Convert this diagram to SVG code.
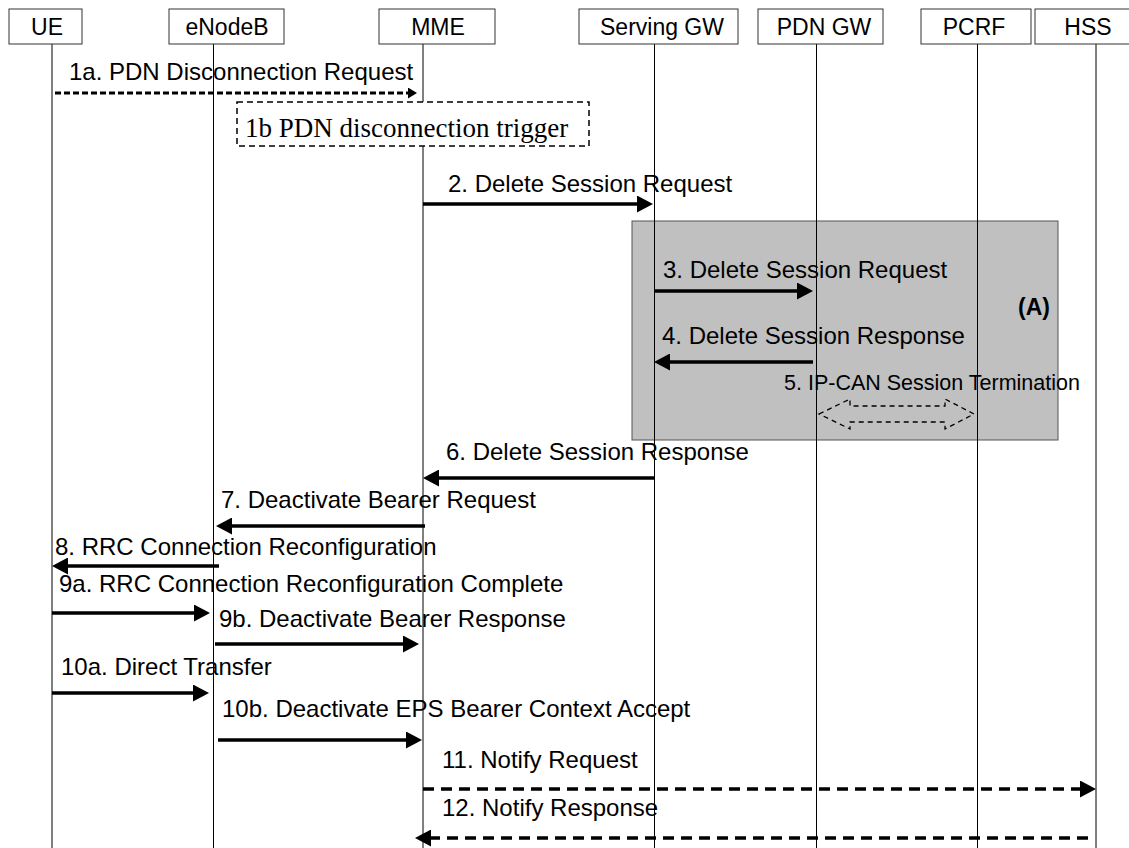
<svg xmlns="http://www.w3.org/2000/svg" width="1129" height="848" viewBox="0 0 1129 848">
<style>
.hdr rect{fill:#fff;stroke:#333;stroke-width:1}
text{font-family:"Liberation Sans",Arial,sans-serif;font-size:24px;fill:#000}
.hdr text{text-anchor:middle;font-size:23px}
.life{stroke:#000;stroke-width:1}
.msg{stroke:#000;stroke-width:3.5;fill:none}
.dash{stroke-dasharray:11 7}
.dot{stroke:#000;stroke-width:3;stroke-dasharray:6 3;fill:none}
</style>
<defs>
<marker id="ah" markerUnits="userSpaceOnUse" markerWidth="16" markerHeight="17" refX="0" refY="8.5" orient="auto">
<path d="M0,0 L16,8.5 L0,17 z" fill="#000"/>
</marker>
<marker id="ahs" markerUnits="userSpaceOnUse" markerWidth="9" markerHeight="11" refX="0" refY="5.5" orient="auto">
<path d="M0,0 L9,5.5 L0,11 z" fill="#000"/>
</marker>
</defs>
<g id="regionA">
<rect x="632" y="221" width="426" height="219" fill="#c0c0c0" stroke="#555" stroke-width="1"/>
<text x="1018" y="315" font-weight="bold" style="font-size:23px">(A)</text>
</g>
<g id="lifelines">
<line class="life" x1="52" y1="44" x2="52" y2="848"/>
<line class="life" x1="213.5" y1="44" x2="213.5" y2="848"/>
<line class="life" x1="423" y1="44" x2="423" y2="848"/>
<line class="life" x1="654.5" y1="44" x2="654.5" y2="848"/>
<line class="life" x1="816.5" y1="44" x2="816.5" y2="848"/>
<line class="life" x1="977.5" y1="44" x2="977.5" y2="848"/>
<line class="life" x1="1096" y1="44" x2="1096" y2="848"/>
</g>
<g id="UE" class="hdr"><rect x="9" y="9" width="73" height="35"/><text x="47" y="35">UE</text></g>
<g id="eNodeB" class="hdr"><rect x="169" y="9" width="115" height="35"/><text x="227" y="35">eNodeB</text></g>
<g id="MME" class="hdr"><rect x="379" y="9" width="116" height="35"/><text x="438" y="35">MME</text></g>
<g id="ServingGW" class="hdr"><rect x="579" y="9" width="159" height="35"/><text x="662" y="35">Serving GW</text></g>
<g id="PDNGW" class="hdr"><rect x="758" y="9" width="125" height="35"/><text x="824" y="35">PDN GW</text></g>
<g id="PCRF" class="hdr"><rect x="921" y="9" width="110" height="35"/><text x="974" y="35">PCRF</text></g>
<g id="HSS" class="hdr"><rect x="1035" y="9" width="100" height="35"/><text x="1088" y="35">HSS</text></g>
<g id="trigger1b">
<rect x="237" y="102" width="352" height="44" fill="#fff" stroke="#000" stroke-width="1.5" stroke-dasharray="6 4"/>
<text x="245" y="137" style="font-family:'Liberation Serif','Times New Roman',serif;font-size:27px">1b PDN disconnection trigger</text>
</g>
<g id="connectors">
<line class="dot" x1="55" y1="93" x2="408" y2="93" marker-end="url(#ahs)"/>
<line class="msg" x1="423" y1="204" x2="637" y2="204" marker-end="url(#ah)"/>
<line class="msg" x1="654" y1="291" x2="797" y2="291" marker-end="url(#ah)"/>
<line class="msg" x1="813" y1="362" x2="670" y2="362" marker-end="url(#ah)"/>
<path d="M819,414 L850,399 L850,406 L945,406 L945,399 L974,414 L945,429 L945,422 L850,422 L850,429 Z" fill="none" stroke="#000" stroke-width="1.3" stroke-dasharray="5 4"/>
<line class="msg" x1="654" y1="478" x2="439" y2="478" marker-end="url(#ah)"/>
<line class="msg" x1="425" y1="526" x2="232" y2="526" marker-end="url(#ah)"/>
<line class="msg" x1="219" y1="566" x2="68" y2="566" marker-end="url(#ah)"/>
<line class="msg" x1="52" y1="613" x2="194" y2="613" marker-end="url(#ah)"/>
<line class="msg" x1="215" y1="644" x2="403" y2="644" marker-end="url(#ah)"/>
<line class="msg" x1="52" y1="693" x2="193" y2="693" marker-end="url(#ah)"/>
<line class="msg" x1="218" y1="740" x2="406" y2="740" marker-end="url(#ah)"/>
<line class="msg dash" x1="423" y1="789" x2="1080" y2="789" marker-end="url(#ah)"/>
<line class="msg dash" x1="1088" y1="838" x2="431" y2="838" marker-end="url(#ah)"/>
</g>
<g id="labels">
<text x="69" y="80">1a. PDN Disconnection Request</text>
<text x="448" y="192">2. Delete Session Request</text>
<text x="663" y="278">3. Delete Session Request</text>
<text x="662" y="344">4. Delete Session Response</text>
<text x="784" y="390" style="font-size:21.5px">5. IP-CAN Session Termination</text>
<text x="446" y="460">6. Delete Session Response</text>
<text x="221" y="508">7. Deactivate Bearer Request</text>
<text x="55" y="555">8. RRC Connection Reconfiguration</text>
<text x="59" y="592">9a. RRC Connection Reconfiguration Complete</text>
<text x="219" y="627">9b. Deactivate Bearer Response</text>
<text x="61" y="675">10a. Direct Transfer</text>
<text x="222" y="717">10b. Deactivate EPS Bearer Context Accept</text>
<text x="442" y="768">11. Notify Request</text>
<text x="442" y="816">12. Notify Response</text>
</g>
</svg>
